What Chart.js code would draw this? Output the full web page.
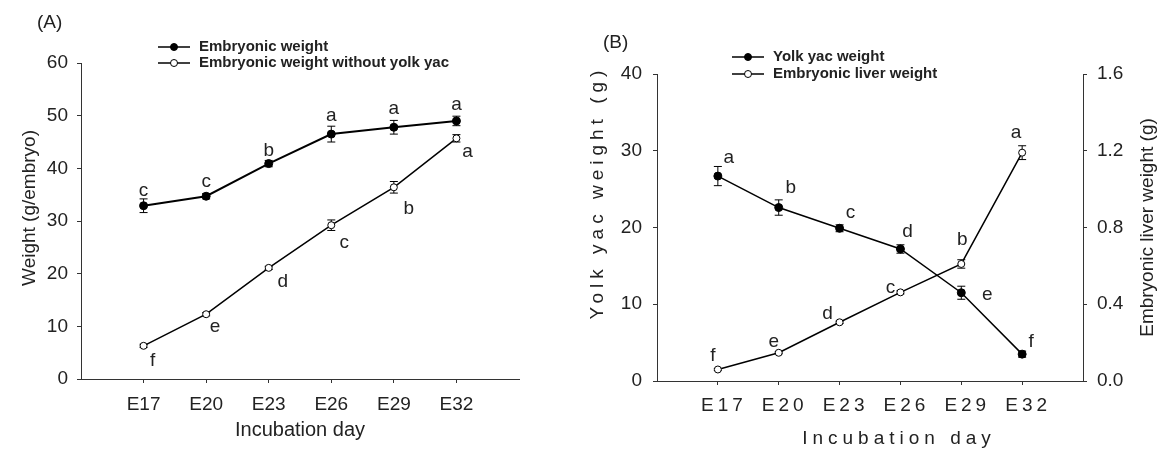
<!DOCTYPE html>
<html>
<head>
<meta charset="utf-8">
<script src="https://cdn.jsdelivr.net/npm/chart.js@4.4.1/dist/chart.umd.min.js"></script>
<style>
  html, body { margin: 0; padding: 0; background: #fff; }
  #wrap { position: relative; width: 1162px; height: 450px; }
  canvas { position: absolute; top: 0; }
  #chartA { left: 0; }
  #chartB { left: 560px; }
</style>
</head>
<body>
<div id="wrap">
  <canvas id="chartA" width="560" height="450"></canvas>
  <canvas id="chartB" width="602" height="450"></canvas>
</div>
<script>
// incubation days (x axis)
const days = [17, 20, 23, 26, 29, 32];
const dayLabels = ['E17', 'E20', 'E23', 'E26', 'E29', 'E32'];

// panel A
const embryoWeight = [32.9, 34.7, 40.9, 46.5, 47.8, 49.0];
const embryoWeightErr = [1.3, 0.5, 0.6, 1.5, 1.3, 0.9];
const embryoWeightSig = ['c', 'c', 'b', 'a', 'a', 'a'];
const embryoNoYolk = [6.3, 12.3, 21.1, 29.2, 36.4, 45.7];
const embryoNoYolkErr = [0.3, 0.3, 0.3, 1.0, 1.1, 0.7];
const embryoNoYolkSig = ['f', 'e', 'd', 'c', 'b', 'a'];

// panel B
const yolkWeight = [26.7, 22.6, 19.9, 17.2, 11.5, 3.5];
const yolkWeightErr = [1.25, 1.0, 0.45, 0.55, 0.85, 0.4];
const yolkWeightSig = ['a', 'b', 'c', 'd', 'e', 'f'];
const liverWeight = [0.06, 0.147, 0.306, 0.462, 0.61, 1.19];
const liverWeightErr = [0.005, 0.005, 0.006, 0.008, 0.022, 0.036];
const liverWeightSig = ['f', 'e', 'd', 'c', 'b', 'a'];

const FONT = "'Liberation Sans', Arial, sans-serif";
Chart.defaults.font.family = FONT;
Chart.defaults.color = '#222';

const pts = vals => days.map((d, i) => ({ x: d, y: vals[i] }));

// error bars, drawn under the markers
const errorBars = {
  id: 'errorBars',
  beforeDatasetsDraw(chart) {
    const ctx = chart.ctx;
    chart.data.datasets.forEach((ds, i) => {
      if (!ds.errors) return;
      const meta = chart.getDatasetMeta(i);
      const ys = chart.scales[meta.yAxisID];
      ctx.save();
      ctx.strokeStyle = '#000';
      ctx.lineWidth = 1;
      meta.data.forEach((p, j) => {
        const v = ds.data[j].y, e = ds.errors[j];
        const y1 = ys.getPixelForValue(v + e), y2 = ys.getPixelForValue(v - e);
        ctx.beginPath();
        ctx.moveTo(p.x, y1); ctx.lineTo(p.x, y2);
        ctx.moveTo(p.x - 4, y1); ctx.lineTo(p.x + 4, y1);
        ctx.moveTo(p.x - 4, y2); ctx.lineTo(p.x + 4, y2);
        ctx.stroke();
      });
      ctx.restore();
    });
  }
};

// significance letters next to each point
const sigLetters = {
  id: 'sigLetters',
  afterDatasetsDraw(chart) {
    const ctx = chart.ctx;
    ctx.save();
    ctx.font = '19px ' + FONT;
    ctx.fillStyle = '#222';
    ctx.textAlign = 'center';
    ctx.textBaseline = 'middle';
    chart.data.datasets.forEach((ds, i) => {
      if (!ds.letters) return;
      chart.getDatasetMeta(i).data.forEach((p, j) => {
        const [dx, dy] = ds.letterOffsets[j];
        ctx.fillText(ds.letters[j], p.x + dx, p.y + dy);
      });
    });
    ctx.restore();
  }
};

// legend (line + marker) and panel tag
const panelLegend = {
  id: 'panelLegend',
  afterDraw(chart, args, opts) {
    const ctx = chart.ctx;
    ctx.save();
    ctx.textBaseline = 'middle';
    ctx.textAlign = 'left';
    chart.data.datasets.forEach((ds, i) => {
      const y = opts.y + i * opts.rowGap;
      ctx.strokeStyle = ds.borderColor;
      ctx.lineWidth = 1.5;
      ctx.beginPath(); ctx.moveTo(opts.x, y); ctx.lineTo(opts.x + 32, y); ctx.stroke();
      ctx.beginPath(); ctx.arc(opts.x + 16, y, 3.5, 0, Math.PI * 2);
      ctx.fillStyle = ds.pointBackgroundColor; ctx.fill();
      ctx.lineWidth = 1; ctx.stroke();
      ctx.fillStyle = '#222';
      ctx.font = 'bold 15px ' + FONT;
      ctx.fillText(ds.label, opts.x + 41, y);
    });
    ctx.font = '19px ' + FONT;
    ctx.fillText(opts.tag, opts.tagX, opts.tagY);
    ctx.restore();
  }
};

// per-scale text tweaks: letter spacing, nudges, reading direction
const scaleTweaks = {
  id: 'scaleTweaks',
  afterUpdate(chart, args, opts) {
    Object.keys(chart.scales).forEach(id => {
      const t = opts[id];
      const s = chart.scales[id];
      if (!t || s._tweaked) return;
      s._tweaked = true;
      const wrap = (fn, spacing, shift, flip) => {
        const orig = s[fn];
        s[fn] = function (...a) {
          const ctx = this.ctx;
          ctx.save();
          if (spacing) ctx.letterSpacing = spacing;
          if (shift) ctx.translate(shift[0], shift[1]);
          if (flip) {
            const cx = this.right - flip, cy = (this.top + this.bottom) / 2;
            ctx.translate(cx, cy); ctx.rotate(Math.PI); ctx.translate(-cx, -cy);
          }
          orig.apply(this, a);
          ctx.restore();
        };
      };
      wrap('drawTitle', t.titleSpacing, t.titleShift, t.flip);
      wrap('drawLabels', t.labelSpacing, t.labelShift, null);
    });
  }
};

const axisColor = '#333';
const tickGrid = { display: true, drawOnChartArea: false, drawTicks: true, tickLength: 4, color: axisColor };

function xScale(height, tickPad, titleSize, titlePad) {
  return {
    type: 'linear', min: 14, max: 35,
    afterBuildTicks: s => { s.ticks = days.map(v => ({ value: v })); },
    afterFit: s => { s.height = height; },
    border: { color: axisColor, width: 1 },
    grid: tickGrid,
    ticks: { font: { size: 19 }, padding: tickPad, callback: v => dayLabels[days.indexOf(v)] },
    title: { display: true, text: 'Incubation day', font: { size: titleSize }, padding: { top: 0, bottom: titlePad } }
  };
}

// ---- (A)
new Chart(document.getElementById('chartA'), {
  type: 'line',
  data: {
    datasets: [
      {
        label: 'Embryonic weight', data: pts(embryoWeight), errors: embryoWeightErr,
        letters: embryoWeightSig,
        letterOffsets: [[0, -15], [0, -14], [0, -13], [0, -18], [0, -18], [0, -16]],
        borderColor: '#000', borderWidth: 2, pointRadius: 4,
        pointBackgroundColor: '#000', pointBorderColor: '#000', pointBorderWidth: 1
      },
      {
        label: 'Embryonic weight without yolk yac', data: pts(embryoNoYolk), errors: embryoNoYolkErr,
        letters: embryoNoYolkSig,
        letterOffsets: [[9, 15], [9, 13], [14, 14], [13, 18], [15, 21], [11, 13]],
        borderColor: '#000', borderWidth: 1.5, pointRadius: 3.5,
        pointBackgroundColor: '#fff', pointBorderColor: '#000', pointBorderWidth: 1
      }
    ]
  },
  options: {
    responsive: false, animation: false, events: [],
    layout: { padding: { left: 0, right: 41, top: 63, bottom: 0 } },
    scales: {
      x: xScale(71, 10, 20, 8),
      y: {
        min: 0, max: 60,
        afterFit: s => { s.width = 81; },
        border: { color: axisColor, width: 1 },
        grid: tickGrid,
        ticks: { stepSize: 10, font: { size: 19 }, padding: 9 },
        title: { display: true, text: 'Weight (g/embryo)', font: { size: 19 }, padding: { top: 18, bottom: 0 } }
      }
    },
    plugins: {
      legend: { display: false },
      tooltip: { enabled: false },
      panelLegend: { x: 158, y: 47, rowGap: 16, tag: '(A)', tagX: 37, tagY: 23 },
      scaleTweaks: { y: { titleShift: [0, -13] } }
    }
  },
  plugins: [errorBars, sigLetters, panelLegend, scaleTweaks]
});

// ---- (B)
new Chart(document.getElementById('chartB'), {
  type: 'line',
  data: {
    datasets: [
      {
        label: 'Yolk yac weight', data: pts(yolkWeight), errors: yolkWeightErr, yAxisID: 'y',
        letters: yolkWeightSig,
        letterOffsets: [[11, -18], [12, -20], [11, -16], [7, -17], [26, 2], [9, -12]],
        borderColor: '#000', borderWidth: 1.5, pointRadius: 4,
        pointBackgroundColor: '#000', pointBorderColor: '#000', pointBorderWidth: 1
      },
      {
        label: 'Embryonic liver weight', data: pts(liverWeight), errors: liverWeightErr, yAxisID: 'y2',
        letters: liverWeightSig,
        letterOffsets: [[-5, -14], [-5, -11], [-12, -9], [-10, -5], [1, -24], [-6, -20]],
        borderColor: '#000', borderWidth: 1.5, pointRadius: 3.5,
        pointBackgroundColor: '#fff', pointBorderColor: '#000', pointBorderWidth: 1
      }
    ]
  },
  options: {
    responsive: false, animation: false, events: [],
    layout: { padding: { left: 0, right: 0, top: 74, bottom: 0 } },
    scales: {
      x: xScale(69, 9, 19, 0),
      y: {
        position: 'left', min: 0, max: 40,
        afterFit: s => { s.width = 97; },
        border: { color: axisColor, width: 1 },
        grid: tickGrid,
        ticks: { stepSize: 10, font: { size: 19 }, padding: 11 },
        title: { display: true, text: 'Yolk yac weight (g)', font: { size: 19 }, padding: { top: 26, bottom: 0 } }
      },
      y2: {
        position: 'right', min: 0, max: 1.6,
        afterFit: s => { s.width = 79; },
        border: { color: axisColor, width: 1 },
        grid: tickGrid,
        ticks: { stepSize: 0.4, font: { size: 19 }, padding: 10, callback: v => v.toFixed(1) },
        title: { display: true, text: 'Embryonic liver weight (g)', font: { size: 19 }, padding: { top: 3, bottom: 0 } }
      }
    },
    plugins: {
      legend: { display: false },
      tooltip: { enabled: false },
      panelLegend: { x: 172, y: 57, rowGap: 17, tag: '(B)', tagX: 43, tagY: 43 },
      scaleTweaks: {
        x: { titleSpacing: '5px', titleShift: [29, 0], labelSpacing: '4px', labelShift: [6, 0] },
        y: { titleSpacing: '5px', titleShift: [0, -35] },
        y2: { flip: 14.4 }
      }
    }
  },
  plugins: [errorBars, sigLetters, panelLegend, scaleTweaks]
});
</script>
</body>
</html>
